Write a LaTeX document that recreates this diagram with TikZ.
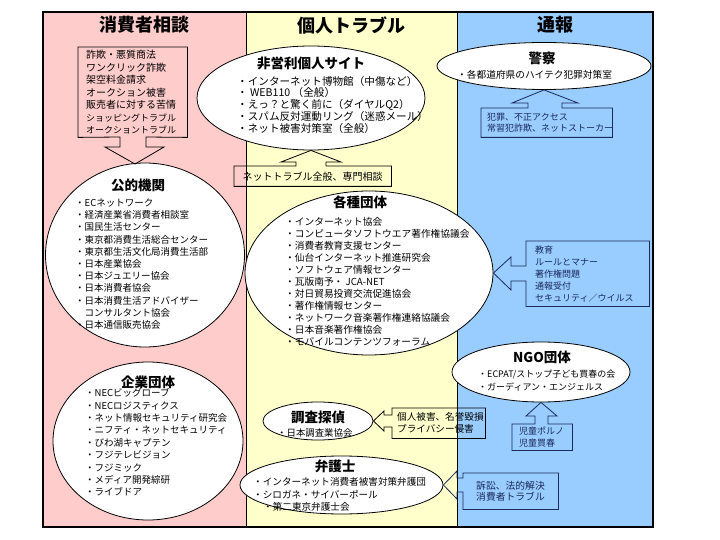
\documentclass[tikz,border=0pt]{standalone}
\usepackage{fontspec}
\setmainfont{Noto Sans CJK JP}
\usetikzlibrary{shapes.geometric}
\definecolor{pinkbg}{HTML}{FFCCCC}
\definecolor{yellowbg}{HTML}{FFFFCC}
\definecolor{bluebg}{HTML}{99CCFF}
\definecolor{navy}{HTML}{1A2A5A}
\begin{document}
\begin{tikzpicture}[x=1pt,y=-1pt,
  ell/.style={draw=black, line width=0.8pt, fill=white, ellipse, inner sep=0pt},
  hdr/.style={font=\fontsize{18}{20}\selectfont\bfseries, inner sep=0pt},
  ttl/.style={font=\fontsize{13.5}{15}\selectfont\bfseries, inner sep=0pt},
  lst/.style={align=left, inner sep=0pt, anchor=west},
  cbox/.style={draw=none, inner ysep=0pt, anchor=north west, align=left},
  co/.style={draw=black, line width=0.8pt},
  conavy/.style={draw=navy, line width=0.8pt},
]
\useasboundingbox (0,0) rectangle (720,540);
% columns
\fill[pinkbg] (43,12) rectangle (246,527);
\fill[yellowbg] (246,12) rectangle (457,527);
\fill[bluebg] (457,12) rectangle (653,527);
\draw[line width=1pt] (246,12) -- (246,527);
\draw[line width=1pt] (457,12) -- (457,527);
\draw[line width=2pt] (43,12) rectangle (653,527);

% headers
\node[hdr] (h1) at (144.5,25) {消費者相談};
\node[hdr] (h2) at (351.5,25) {個人トラブル};
\node[hdr] (h3) at (555,25) {通報};

% ellipses
\node[ell, minimum width=199pt, minimum height=184pt] (epub) at (145,255) {};
\node[ell, minimum width=190pt, minimum height=158pt] (ecorp) at (148,441) {};
\node[ell, minimum width=228pt, minimum height=104pt] (enpo) at (311,98) {};
\node[ell, minimum width=248pt, minimum height=164pt] (ekaku) at (369,273) {};
\node[ell, minimum width=214pt, minimum height=47pt] (epol) at (544,66) {};
\node[ell, minimum width=178pt, minimum height=60pt] (engo) at (541,372) {};
\node[ell, minimum width=110pt, minimum height=38pt] (etan) at (318,421) {};
\node[ell, minimum width=203pt, minimum height=58pt] (eben) at (341.5,485) {};

% titles
\node[ttl] (tpub) at (138,185) {公的機関};
\node[ttl] (tcorp) at (148,382) {企業団体};
\node[ttl] (tnpo) at (311,63) {非営利個人サイト};
\node[ttl] (tkaku) at (360,202) {各種団体};
\node[ttl] (tpol) at (542,58) {警察};
\node[ttl] (tngo) at (542,357) {NGO団体};
\node[ttl] (ttan) at (318,417) {調査探偵};
\node[ttl] (tben) at (335,466) {弁護士};

% lists
\node[lst, font=\fontsize{10.6}{11.75}\selectfont] (lnpo) at (237,104.5) {・インターネット博物館（中傷など）\\・ WEB110 （全般）\\・えっ？と驚く前に（ダイヤルQ2）\\・スパム反対運動リング（迷惑メール）\\・ネット被害対策室（全般）};
\node[lst, font=\fontsize{9.5}{12.2}\selectfont] (lpub) at (75,264) {・ECネットワーク\\・経済産業省消費者相談室\\・国民生活センター\\・東京都消費生活総合センター\\・東京都生活文化局消費生活部\\・日本産業協会\\・日本ジュエリー協会\\・日本消費者協会\\・日本消費生活アドバイザー\\\phantom{・}コンサルタント協会\\・日本通信販売協会};
\node[lst, font=\fontsize{9.7}{12}\selectfont] (lkaku) at (285,282) {・インターネット協会\\・コンピュータソフトウエア著作権協議会\\・消費者教育支援センター\\・仙台インターネット推進研究会\\・ソフトウェア情報センター\\・瓦版南予・ JCA-NET\\・対日貿易投資交流促進協会\\・著作権情報センター\\・ネットワーク音楽著作権連絡協議会\\・日本音楽著作権協会\\・モバイルコンテンツフォーラム};
\node[lst, font=\fontsize{9.5}{12.4}\selectfont] (lcorp) at (85,442.5) {・NECビッグローブ\\・NECロジスティクス\\・ネット情報セキュリティ研究会\\・ニフティ・ネットセキュリティ\\・びわ湖キャプテン\\・フジテレビジョン\\・フジミック\\・メディア開発綜研\\・ライブドア};
\node[lst, font=\fontsize{9.7}{12}\selectfont] (lpol) at (457,75) {・各都道府県のハイテク犯罪対策室};
\node[lst, font=\fontsize{9}{13}\selectfont] (lngo) at (478,380.5) {・ECPAT/ストップ子ども買春の会\\・ガーディアン・エンジェルス};
\node[lst, font=\fontsize{9.4}{12}\selectfont] (ltan) at (277,433) {・日本調査業協会};
\node[lst, font=\fontsize{9.6}{12.5}\selectfont] (lben) at (253,494.5) {・インターネット消費者被害対策弁護団\\・シロガネ・サイバーポール\\\hspace*{10pt}・第二東京弁護士会};

% callout boxes
\node[cbox, inner xsep=8pt, text width=93pt, minimum height=90pt, font=\fontsize{10}{12.5}\selectfont] (b1) at (78,47) {詐欺・悪質商法\\ワンクリック詐欺\\架空料金請求\\オークション被害\\販売者に対する苦情\\{\fontsize{9}{12.5}\selectfont ショッピングトラブル}\\{\fontsize{9}{12.5}\selectfont オークショントラブル}};
\node[cbox, align=center, inner xsep=4pt, text width=149pt, minimum height=20pt, font=\fontsize{10}{12}\selectfont] (b2) at (234,166) {ネットトラブル全般、専門相談};
\node[cbox, inner xsep=6pt, text width=119pt, minimum height=29pt, text=navy, font=\fontsize{9}{11.5}\selectfont] (b3) at (481,108) {犯罪、不正アクセス\\常習犯詐欺、ネットストーカー};
\node[cbox, inner xsep=9pt, text width=105pt, minimum height=65pt, text=navy, font=\fontsize{9}{12}\selectfont] (b4) at (526,241) {教育\\ルールとマナー\\著作権問題\\通報受付\\セキュリティ／ウイルス};
\node[cbox, inner xsep=7pt, text width=46pt, minimum height=26pt, text=navy, font=\fontsize{9}{12}\selectfont] (b5) at (512,424) {児童ポルノ\\児童買春};
\node[cbox, inner xsep=5pt, text width=83pt, minimum height=30pt, font=\fontsize{9.6}{12}\selectfont] (b6) at (392,408) {個人被害、名誉毀損\\プライバシー侵害};
\node[cbox, inner xsep=13pt, text width=69pt, minimum height=36pt, text=navy, font=\fontsize{9.8}{11.5}\selectfont] (b7) at (463,473) {訴訟、法的解決\\消費者トラブル};

% callout outlines
\coordinate (t1) at (135,164);
\draw[co] (b1.north west) -- (b1.north east) -- (b1.south east) -- (146,137) -- (146,147) -- (164,147) -- (t1) -- (105,147) -- (120,147) -- (120,137) -- (b1.south west) -- cycle;
\draw[co] (b2.south west) -- (b2.north west) -- (296,166) -- (296,162) -- (281,162) -- (enpo.south) -- (341,162) -- (326,162) -- (326,166) -- (b2.north east) -- (b2.south east) -- cycle;
\draw[conavy] (b3.south west) -- (b3.north west) -- (528,108) -- (528,103) -- (512,103) -- (epol.south) -- (578,103) -- (562,103) -- (562,108) -- (b3.north east) -- (b3.south east) -- cycle;
\draw[conavy] (b4.north west) -- (b4.north east) -- (b4.south east) -- (b4.south west) -- (526,281) -- (511,281) -- (511,290) -- (ekaku.east) -- (511,257) -- (511,266) -- (526,266) -- cycle;
\draw[conavy] (b5.south west) -- (b5.north west) -- (535,424) -- (535,416) -- (526,416) -- (engo.south) -- (557,416) -- (548,416) -- (548,424) -- (b5.north east) -- (b5.south east) -- cycle;
\draw[co] (b6.north west) -- (b6.north east) -- (b6.south east) -- (b6.south west) -- (392,427) -- (384,427) -- (384,431) -- (etan.east) -- (384,411) -- (384,415) -- (392,415) -- cycle;
\draw[conavy] (b7.north west) -- (b7.north east) -- (b7.south east) -- (b7.south west) -- (463,492) -- (457,492) -- (457,499) -- (eben.east) -- (457,471) -- (457,478) -- (463,478) -- cycle;
\end{tikzpicture}
\end{document}
